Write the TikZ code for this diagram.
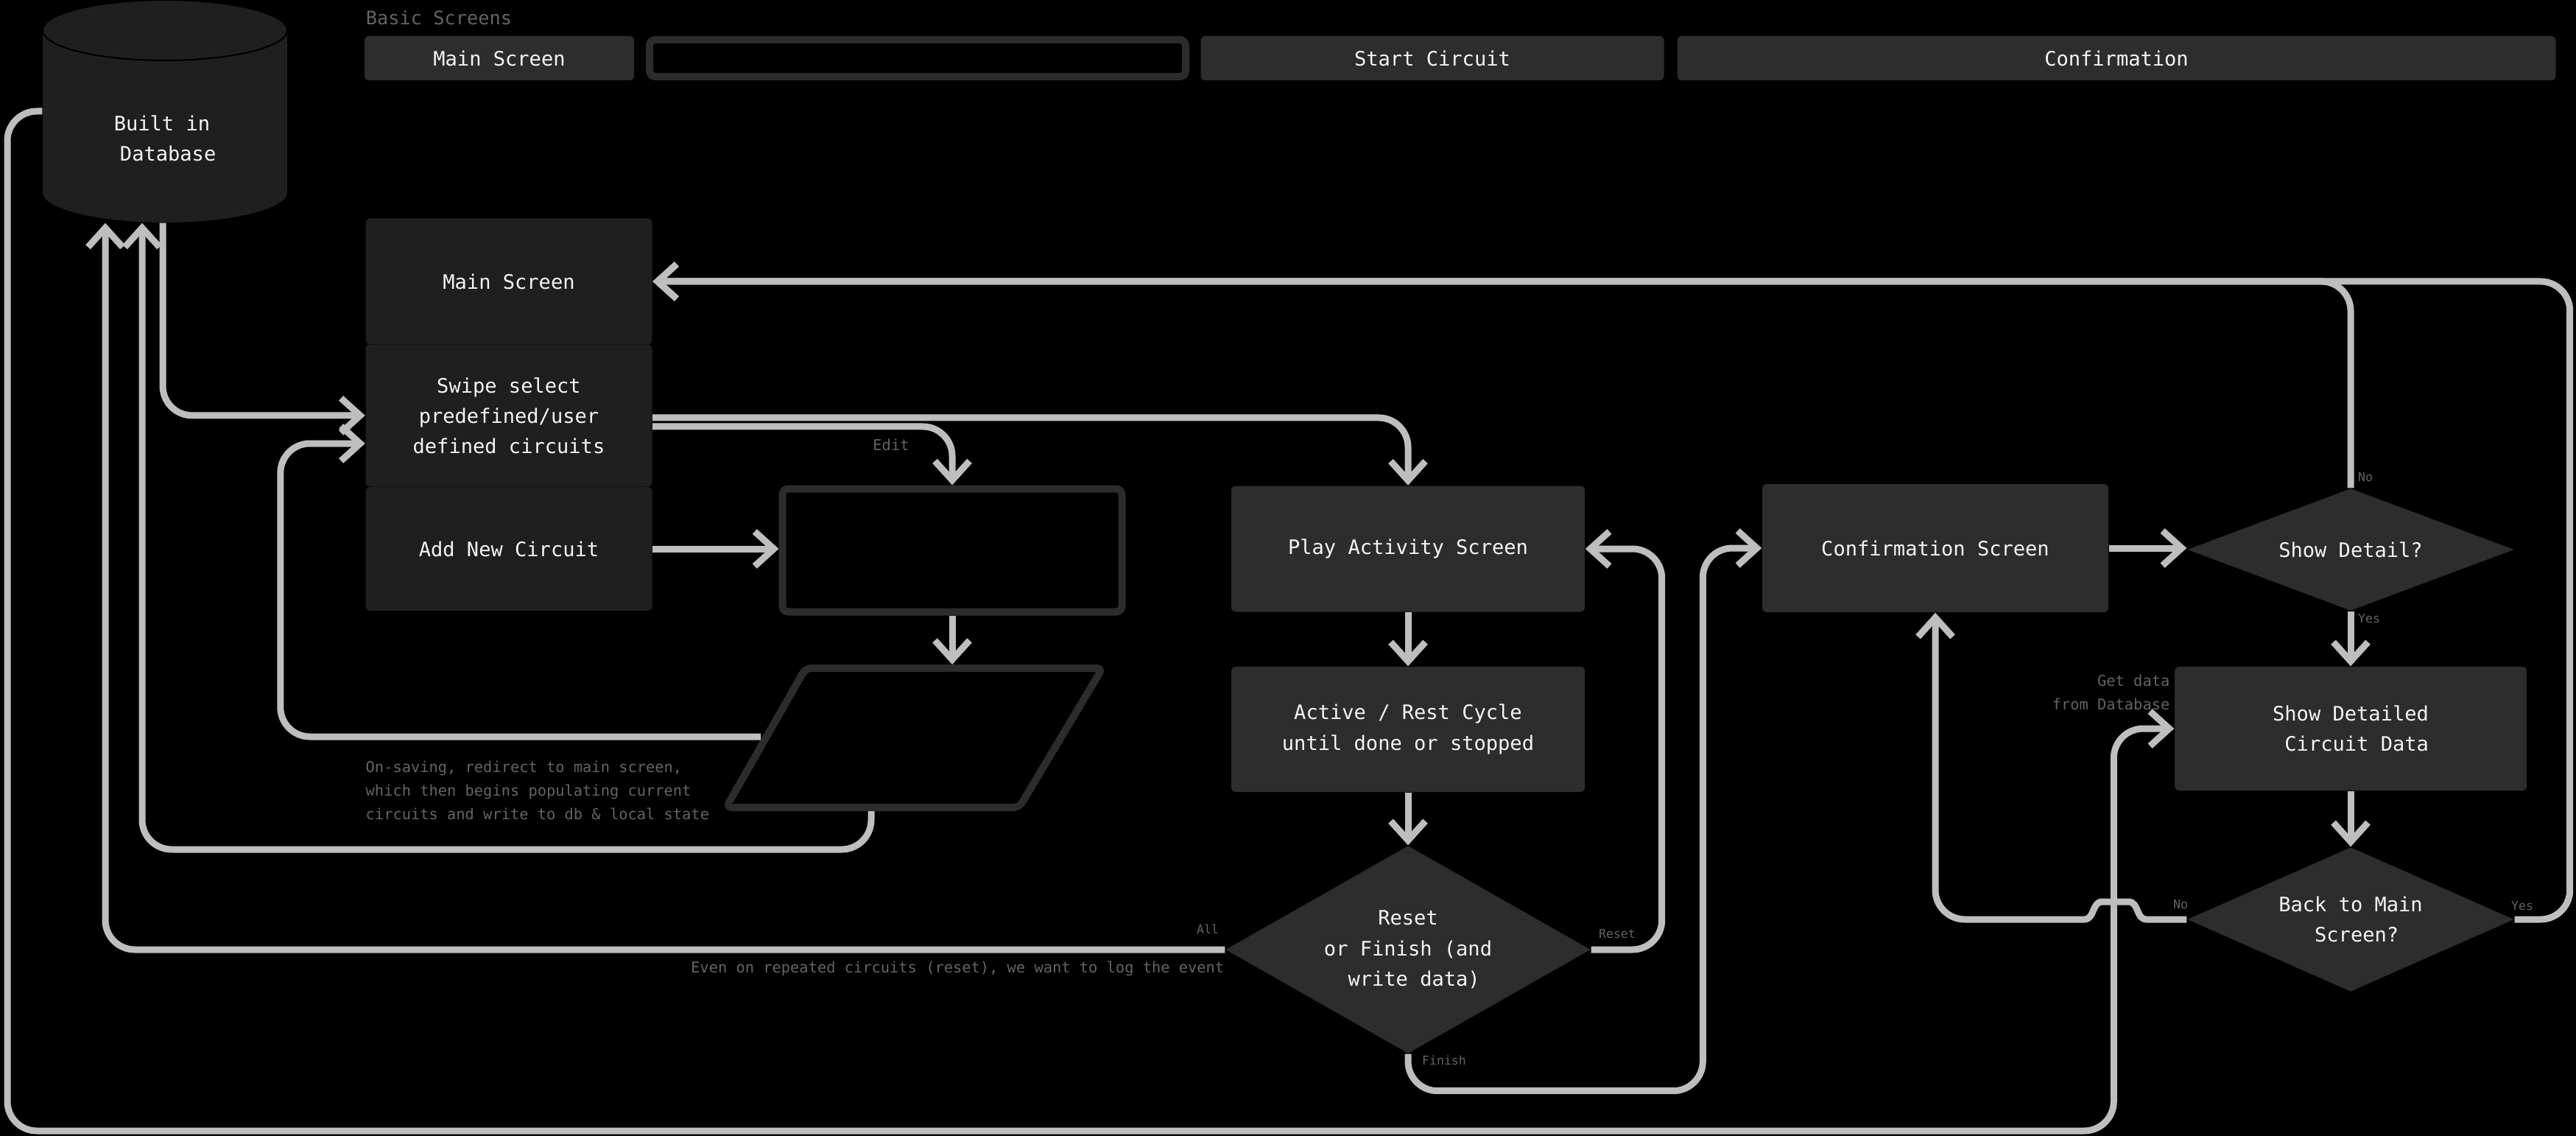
\documentclass[tikz,border=0pt]{standalone}
\usepackage{fontspec}
\setmonofont{DejaVu Sans Mono}
\usepackage{tikz}
\usepackage{xcolor}
\usetikzlibrary{arrows.meta,shapes.geometric}

\begin{document}
\begin{tikzpicture}[
		screen/.style={fill=BOX_GRAY, rounded corners=0.06cm, inner sep=0cm, text=ALMOST_WHITE, font=\ttfamily\fontsize{7.7}{11.7}\selectfont, align=center},
		darkscreen/.style={screen, fill=DARK_BOX, minimum width=3.89cm},
		header/.style={screen, minimum height=0.60cm},
		hollow/.style={draw=OUTLINE_GRAY, line width=0.1cm, fill=BACKGROUND, rounded corners=0.08cm},
		decision/.style={diamond, fill=BOX_GRAY, inner sep=0cm, text=ALMOST_WHITE, font=\ttfamily\fontsize{7.7}{11.7}\selectfont, align=center},
		flow/.style={draw=EDGE_GRAY, line width=0.09cm, rounded corners=0.4cm, -{Straight Barb[length=0.26cm, width=0.47cm]}},
		notelbl/.style={text=LABEL_GRAY, font=\ttfamily\fontsize{5.8}{9}\selectfont, inner sep=0cm},
		edgelbl/.style={notelbl, font=\ttfamily\fontsize{4.7}{6}\selectfont},
		titlelbl/.style={notelbl, font=\ttfamily\fontsize{7.2}{9}\selectfont}
	]
				\definecolor{BACKGROUND}{RGB}{0, 0, 0}
				\definecolor{BOX_GRAY}{RGB}{45, 45, 45}
				\definecolor{DARK_BOX}{RGB}{31, 31, 31}
				\definecolor{OUTLINE_GRAY}{RGB}{44, 44, 44}
				\definecolor{EDGE_GRAY}{RGB}{190, 190, 190}
				\definecolor{LABEL_GRAY}{RGB}{100, 100, 100}
				\definecolor{ALMOST_WHITE}{RGB}{245, 245, 245}

				\fill[BACKGROUND] (0.00cm, 0.00cm) rectangle (34.98cm, -15.42cm);
				\useasboundingbox (0.00cm, 0.00cm) rectangle (34.98cm, -15.42cm);

				\fill[DARK_BOX] (0.58cm, -0.41cm) -- (0.58cm, -2.61cm) arc[start angle=180, end angle=360, x radius=1.66cm, y radius=0.41cm]
 -- (3.90cm, -0.41cm) arc[start angle=0, end angle=180, x radius=1.66cm, y radius=0.41cm] -- cycle;
				\draw[BACKGROUND, line width=0.02cm] (2.24cm, -0.41cm) ellipse[x radius=1.66cm, y radius=0.41cm];
				\node (db) at (2.24cm, -1.51cm) [minimum width=3.32cm, minimum height=3.02cm, inner sep=0cm] {};
				\node[screen, fill=none] (dbname) at (2.20cm, -1.88cm) {Built in\\\hphantom{x}Database};

				\node[titlelbl] (title) at (5.96cm, -0.24cm) {Basic Screens};
				\node[header] (hmain) at (6.78cm, -0.79cm) [minimum width=3.66cm] {Main Screen};
				\node[hollow] (hedit) at (12.46cm, -0.79cm) [minimum width=7.28cm, minimum height=0.50cm] {};
				\node[header] (hplay) at (19.45cm, -0.79cm) [minimum width=6.29cm] {Start Circuit};
				\node[header] (hconf) at (28.74cm, -0.79cm) [minimum width=11.93cm] {Confirmation};

				\node[darkscreen] (mainscr) at (6.91cm, -3.82cm) [minimum height=1.71cm] {Main Screen};
				\node[darkscreen] (swipe) at (6.91cm, -5.64cm) [minimum height=1.93cm] {Swipe select\\predefined/user\\defined circuits};
				\node[darkscreen] (addnew) at (6.91cm, -7.45cm) [minimum height=1.68cm] {Add New Circuit};

				\node[hollow] (editbox) at (12.93cm, -7.47cm) [minimum width=4.61cm, minimum height=1.67cm] {};
				\draw[OUTLINE_GRAY, line width=0.1cm, fill=BACKGROUND, rounded corners=0.08cm] (10.94cm, -9.07cm) -- (14.97cm, -9.07cm)
 -- (13.84cm, -10.96cm) -- (9.86cm, -10.96cm) -- cycle;
				\coordinate (paraN) at (12.93cm, -9.02cm);
				\coordinate (paraW) at (10.33cm, -10.00cm);
				\coordinate (paraS) at (11.83cm, -11.01cm);

				\node[screen] (play) at (19.12cm, -7.45cm) [minimum width=4.80cm, minimum height=1.71cm] {Play Activity Screen};
				\node[screen] (active) at (19.12cm, -9.90cm) [minimum width=4.80cm, minimum height=1.70cm] {Active / Rest Cycle\\until done or stopped};
				\node[decision] (reset) at (19.12cm, -12.89cm) [minimum width=4.96cm, minimum height=2.82cm, aspect=1.76] {Reset\\or Finish (and\\\hphantom{x}write data)};

				\node[screen] (conf) at (26.28cm, -7.44cm) [minimum width=4.70cm, minimum height=1.74cm] {Confirmation Screen};
				\node[decision] (showq) at (31.92cm, -7.46cm) [minimum width=4.44cm, minimum height=1.66cm, aspect=2.67] {Show Detail?};
				\node[screen] (detail) at (31.92cm, -9.89cm) [minimum width=4.78cm, minimum height=1.68cm] {Show Detailed\\\hphantom{x}Circuit Data};
				\node[decision] (backq) at (31.92cm, -12.48cm) [minimum width=4.44cm, minimum height=1.96cm, aspect=2.27] {Back to Main\\\hphantom{x}Screen?};

				\draw[flow] ([xshift=-0.03cm]db.south) |- (swipe.west);
				\draw[flow] (paraW) -| ([xshift=-1.15cm, yshift=-0.38cm]swipe.west) -- ([yshift=-0.38cm]swipe.west);
				\draw[flow] (paraS) -- ++(0.00cm, -0.52cm) -| ([xshift=-0.31cm]db.south);
				\draw[flow] (reset.west) -| ([xshift=-0.81cm]db.south);
				\draw[flow] (db.west) -| (0.10cm, -15.35cm) -| ([xshift=-0.82cm]detail.west) -- (detail.west);

				\draw[flow] ([yshift=-0.03cm]swipe.east) -| (play.north);
				\draw[flow] ([yshift=-0.15cm]swipe.east) -| (editbox.north);
				\draw[flow] (addnew.east) -- (addnew.east -| editbox.west);
				\draw[flow] (editbox.south) -- (paraN);

				\draw[flow] (play.south) -- (active.north);
				\draw[flow] (active.south) -- (reset.north);
				\draw[flow] (reset.east) -| ([xshift=1.04cm]play.east) -- (play.east);
				\draw[flow] (reset.south) -- ++(0.00cm, -0.50cm) -| ([xshift=-0.80cm]conf.west) -- (conf.west);

				\draw[flow] (conf.east) -- (conf.east -| showq.west);
				\draw[flow] (showq.north) |- (mainscr.east);
				\draw[flow] (showq.south) -- (detail.north);
				\draw[flow] (detail.south) -- (backq.north);
				\draw[flow] (backq.east) -- ++(0.75cm, 0.00cm) |- (mainscr.east);
				\draw[flow, sharp corners] (backq.west) -- (29.15cm, -12.48cm) .. controls (29.00cm, -12.48cm) and (29.05cm, -12.24cm) .. (28.90cm, -12.24cm)
 -- (28.55cm, -12.24cm) .. controls (28.40cm, -12.24cm) and (28.45cm, -12.48cm) .. (28.30cm, -12.48cm)
 [rounded corners=0.4cm] -| (conf.south);

				\node[notelbl] (lEdit) at (12.10cm, -6.04cm) {Edit};
				\node[notelbl, align=left, anchor=west] (lSave) at (4.96cm, -10.73cm) {On-saving, redirect to main screen,\\which then begins populating current\\circuits and write to db \& local state};
				\node[notelbl, anchor=east] (lLog) at (16.63cm, -13.15cm) {Even on repeated circuits (reset), we want to log the event};
				\node[notelbl, align=right, anchor=east] (lGet) at (29.47cm, -9.40cm) {Get data\\from Database};
				\node[edgelbl] (lAll) at (16.40cm, -12.61cm) {All};
				\node[edgelbl] (lReset) at (21.96cm, -12.68cm) {Reset};
				\node[edgelbl] (lFinish) at (19.61cm, -14.39cm) {Finish};
				\node[edgelbl] (lNoShow) at (32.12cm, -6.48cm) {No};
				\node[edgelbl] (lYesShow) at (32.17cm, -8.40cm) {Yes};
				\node[edgelbl] (lNoBack) at (29.61cm, -12.28cm) {No};
				\node[edgelbl] (lYesBack) at (34.25cm, -12.30cm) {Yes};
			\end{tikzpicture}
\end{document}
